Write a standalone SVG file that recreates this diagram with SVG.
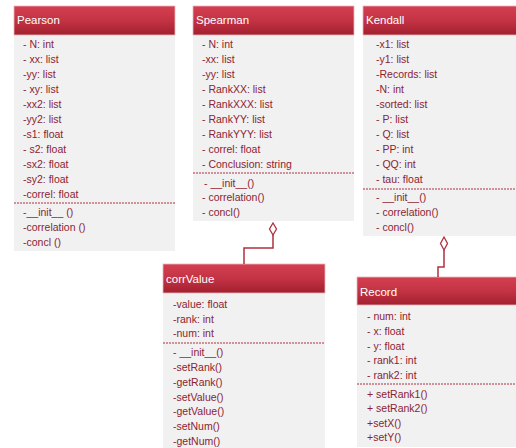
<svg xmlns="http://www.w3.org/2000/svg" width="516" height="448" viewBox="0 0 516 448">
<defs>
<linearGradient id="hg" x1="0" y1="0" x2="0" y2="1">
<stop offset="0" stop-color="#d43f50"/>
<stop offset="0.5" stop-color="#c33344"/>
<stop offset="1" stop-color="#a2202f"/>
</linearGradient>
</defs>
<style>
.body{fill:#f1f1f1;}
.head{fill:url(#hg);stroke:#e8b8bd;stroke-width:0.8;}
.title{font-family:"Liberation Sans",Arial,sans-serif;font-size:11.5px;fill:#ffffff;}
.t{font-family:"Liberation Sans",Arial,sans-serif;font-size:10.5px;fill:#8c2333;}
.sep{stroke:#b0303f;stroke-width:1;stroke-dasharray:2,1;}
.conn{fill:none;stroke:#b0303f;stroke-width:1.5;}
.dia{fill:#ffffff;stroke:#b0303f;stroke-width:1.3;}
</style>
<g id="Pearson">
<rect class="body" x="14" y="35" width="161" height="216"/>
<rect class="head" x="14" y="6" width="161" height="29"/>
<text class="title" x="17" y="24">Pearson</text>
<text class="t" x="23" y="48">- N: int</text>
<text class="t" x="23" y="63">- xx: list</text>
<text class="t" x="23" y="78">-yy: list</text>
<text class="t" x="23" y="93">- xy: list</text>
<text class="t" x="23" y="108">-xx2: list</text>
<text class="t" x="23" y="123">-yy2: list</text>
<text class="t" x="23" y="138">-s1: float</text>
<text class="t" x="23" y="153">- s2: float</text>
<text class="t" x="23" y="168">-sx2: float</text>
<text class="t" x="23" y="183">-sy2: float</text>
<text class="t" x="23" y="198">-correl: float</text>
<line class="sep" x1="14" y1="203" x2="175" y2="203"/>
<text class="t" x="23" y="216">-__init__ ()</text>
<text class="t" x="23" y="231">-correlation ()</text>
<text class="t" x="23" y="246">-concl ()</text>
</g>
<g id="Spearman">
<rect class="body" x="193" y="35" width="161" height="186"/>
<rect class="head" x="193" y="6" width="161" height="29"/>
<text class="title" x="196" y="24">Spearman</text>
<text class="t" x="202" y="48">- N: int</text>
<text class="t" x="202" y="63">-xx: list</text>
<text class="t" x="202" y="78">-yy: list</text>
<text class="t" x="202" y="93">- RankXX: list</text>
<text class="t" x="202" y="108">- RankXXX: list</text>
<text class="t" x="202" y="123">- RankYY: list</text>
<text class="t" x="202" y="138">- RankYYY: list</text>
<text class="t" x="202" y="153">- correl: float</text>
<text class="t" x="202" y="168">- Conclusion: string</text>
<line class="sep" x1="193" y1="173" x2="354" y2="173"/>
<text class="t" x="204" y="187">- __init__()</text>
<text class="t" x="202" y="201">- correlation()</text>
<text class="t" x="202" y="216">- concl()</text>
</g>
<g id="Kendall">
<rect class="body" x="363" y="35" width="153" height="201"/>
<rect class="head" x="363" y="6" width="155" height="29"/>
<text class="title" x="366" y="24">Kendall</text>
<text class="t" x="376" y="48">-x1: list</text>
<text class="t" x="376" y="63">-y1: list</text>
<text class="t" x="376" y="78">-Records: list</text>
<text class="t" x="376" y="93">-N: int</text>
<text class="t" x="376" y="108">-sorted: list</text>
<text class="t" x="376" y="123">- P: list</text>
<text class="t" x="376" y="138">- Q: list</text>
<text class="t" x="376" y="153">- PP: int</text>
<text class="t" x="376" y="168">- QQ: int</text>
<text class="t" x="376" y="183">- tau: float</text>
<line class="sep" x1="363" y1="189" x2="516" y2="189"/>
<text class="t" x="376" y="201">- __init__()</text>
<text class="t" x="376" y="216">- correlation()</text>
<text class="t" x="376" y="231">- concl()</text>
</g>
<g id="corrValue">
<rect class="body" x="163" y="293" width="162" height="155"/>
<rect class="head" x="163" y="264" width="162" height="29"/>
<text class="title" x="166" y="283">corrValue</text>
<text class="t" x="173" y="308">-value: float</text>
<text class="t" x="173" y="323">-rank: int</text>
<text class="t" x="173" y="337">-num: int</text>
<line class="sep" x1="163" y1="343" x2="325" y2="343"/>
<text class="t" x="173" y="356">- __init__()</text>
<text class="t" x="173" y="371">-setRank()</text>
<text class="t" x="173" y="386">-getRank()</text>
<text class="t" x="173" y="401">-setValue()</text>
<text class="t" x="173" y="415">-getValue()</text>
<text class="t" x="173" y="430">-setNum()</text>
<text class="t" x="173" y="445">-getNum()</text>
</g>
<g id="Record">
<rect class="body" x="357" y="305" width="159" height="142"/>
<rect class="head" x="357" y="277" width="160" height="28"/>
<text class="title" x="360" y="296">Record</text>
<text class="t" x="367" y="320">- num: int</text>
<text class="t" x="367" y="335">- x: float</text>
<text class="t" x="367" y="350">- y: float</text>
<text class="t" x="367" y="364">- rank1: int</text>
<text class="t" x="367" y="379">- rank2: int</text>
<line class="sep" x1="357" y1="384" x2="516" y2="384"/>
<text class="t" x="367" y="398">+ setRank1()</text>
<text class="t" x="367" y="412">+ setRank2()</text>
<text class="t" x="367" y="427">+setX()</text>
<text class="t" x="367" y="441">+setY()</text>
</g>
<g id="connectors">
<polyline class="conn" points="273,235 273,248 244,248 244,264"/>
<polygon class="dia" points="273,223 276.5,229 273,235 269.5,229"/>
<polyline class="conn" points="444,250 444,267 438,267 438,277"/>
<polygon class="dia" points="444,237 447.5,243.5 444,250 440.5,243.5"/>
</g>
</svg>
